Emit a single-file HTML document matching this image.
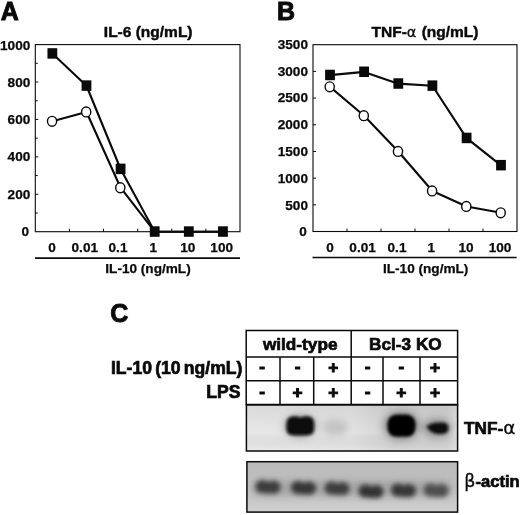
<!DOCTYPE html>
<html lang="en"><head><meta charset="utf-8"><title>Figure</title>
<style>html,body{margin:0;padding:0;background:#fff}svg{display:block}text{font-family:"Liberation Sans",sans-serif;font-weight:bold;fill:#0a0a0a;stroke:#0a0a0a;stroke-width:0.45px}.t{font-size:13.6px;stroke-width:0.25px}.h{font-size:15.5px}.p{font-size:25px;stroke-width:0.9px}.s{font-size:17.2px;stroke-width:0.7px}.m{stroke-width:1px}.g{font-weight:normal;stroke-width:0.3px;font-family:"DejaVu Sans","Liberation Sans",sans-serif}</style></head><body>
<svg width="520" height="515" viewBox="0 0 520 515">
<defs><filter id="b1" x="-50%" y="-50%" width="200%" height="200%"><feGaussianBlur stdDeviation="1.6"/></filter><filter id="b2" x="-50%" y="-50%" width="200%" height="200%"><feGaussianBlur stdDeviation="2.5"/></filter><filter id="b3" x="-50%" y="-50%" width="200%" height="200%"><feGaussianBlur stdDeviation="3.5"/></filter></defs>
<rect width="520" height="515" fill="#fff"/>
<rect x="35.3" y="44.6" width="204.7" height="187.1" fill="none" stroke="#0a0a0a" stroke-width="1.1"/>
<text class="t" x="29" y="235.8" text-anchor="end">0</text>
<path d="M35.3 212.99h2.5" stroke="#0a0a0a" stroke-width="1"/>
<text class="t" x="30.3" y="198.62" text-anchor="end">200</text>
<path d="M35.3 194.28h3" stroke="#0a0a0a" stroke-width="1"/>
<path d="M35.3 175.57h2.5" stroke="#0a0a0a" stroke-width="1"/>
<text class="t" x="30.3" y="161.44" text-anchor="end">400</text>
<path d="M35.3 156.86h3" stroke="#0a0a0a" stroke-width="1"/>
<path d="M35.3 138.15h2.5" stroke="#0a0a0a" stroke-width="1"/>
<text class="t" x="30.3" y="124.26" text-anchor="end">600</text>
<path d="M35.3 119.44h3" stroke="#0a0a0a" stroke-width="1"/>
<path d="M35.3 100.73h2.5" stroke="#0a0a0a" stroke-width="1"/>
<text class="t" x="30.3" y="87.08" text-anchor="end">800</text>
<path d="M35.3 82.02h3" stroke="#0a0a0a" stroke-width="1"/>
<path d="M35.3 63.31h2.5" stroke="#0a0a0a" stroke-width="1"/>
<text class="t" x="30.3" y="49.9" text-anchor="end">1000</text>
<path d="M69.42 231.7v-3" stroke="#0a0a0a" stroke-width="1"/>
<path d="M103.53 231.7v-3" stroke="#0a0a0a" stroke-width="1"/>
<path d="M137.65 231.7v-3" stroke="#0a0a0a" stroke-width="1"/>
<path d="M171.77 231.7v-3" stroke="#0a0a0a" stroke-width="1"/>
<path d="M205.88 231.7v-3" stroke="#0a0a0a" stroke-width="1"/>
<text class="t" x="52" y="252.1" text-anchor="middle">0</text>
<text class="t" x="84.8" y="252.1" text-anchor="middle">0.01</text>
<text class="t" x="118" y="252.1" text-anchor="middle">0.1</text>
<text class="t" x="153.3" y="252.1" text-anchor="middle">1</text>
<text class="t" x="187.8" y="252.1" text-anchor="middle">10</text>
<text class="t" x="221.7" y="252.1" text-anchor="middle">100</text>
<path d="M35 258.05H240" stroke="#0a0a0a" stroke-width="1.7"/>
<text class="t" x="148" y="273" text-anchor="middle">IL-10 (ng/mL)</text>
<text class="h" x="148.2" y="36.7" text-anchor="middle">IL-6 (ng/mL)</text>
<polyline points="52.36,121.31 86.47,111.96 120.59,187.73 154.71,231.7 188.82,231.7 222.94,231.7" fill="none" stroke="#0a0a0a" stroke-width="2.1" stroke-linejoin="round"/>
<polyline points="52.36,53.58 86.47,85.76 120.59,169.02 154.71,231.7 188.82,231.7 222.94,231.7" fill="none" stroke="#0a0a0a" stroke-width="2.1" stroke-linejoin="round"/>
<ellipse cx="52.06" cy="121.31" rx="4.6" ry="4.95" fill="#fff" stroke="#0a0a0a" stroke-width="1.4"/>
<ellipse cx="86.17" cy="111.96" rx="4.6" ry="4.95" fill="#fff" stroke="#0a0a0a" stroke-width="1.4"/>
<ellipse cx="120.29" cy="187.73" rx="4.6" ry="4.95" fill="#fff" stroke="#0a0a0a" stroke-width="1.4"/>
<rect x="47.46" y="48.18" width="9.8" height="10.5" fill="#0a0a0a"/>
<rect x="81.57" y="80.36" width="9.8" height="10.5" fill="#0a0a0a"/>
<rect x="115.69" y="163.62" width="9.8" height="10.5" fill="#0a0a0a"/>
<rect x="149.81" y="226.3" width="9.8" height="10.5" fill="#0a0a0a"/>
<rect x="183.92" y="226.3" width="9.8" height="10.5" fill="#0a0a0a"/>
<rect x="218.04" y="226.3" width="9.8" height="10.5" fill="#0a0a0a"/>
<rect x="313" y="44.7" width="204" height="186.8" fill="none" stroke="#0a0a0a" stroke-width="1.1"/>
<text class="t" x="306.7" y="236.4" text-anchor="end">0</text>
<text class="t" x="308" y="209.6" text-anchor="end">500</text>
<path d="M313 204.81h3" stroke="#0a0a0a" stroke-width="1"/>
<text class="t" x="308" y="182.8" text-anchor="end">1000</text>
<path d="M313 178.13h3" stroke="#0a0a0a" stroke-width="1"/>
<text class="t" x="308" y="156" text-anchor="end">1500</text>
<path d="M313 151.44h3" stroke="#0a0a0a" stroke-width="1"/>
<text class="t" x="308" y="129.2" text-anchor="end">2000</text>
<path d="M313 124.76h3" stroke="#0a0a0a" stroke-width="1"/>
<text class="t" x="308" y="102.4" text-anchor="end">2500</text>
<path d="M313 98.07h3" stroke="#0a0a0a" stroke-width="1"/>
<text class="t" x="308" y="75.6" text-anchor="end">3000</text>
<path d="M313 71.39h3" stroke="#0a0a0a" stroke-width="1"/>
<text class="t" x="308" y="48.8" text-anchor="end">3500</text>
<path d="M347 231.5v-3" stroke="#0a0a0a" stroke-width="1"/>
<path d="M381 231.5v-3" stroke="#0a0a0a" stroke-width="1"/>
<path d="M415 231.5v-3" stroke="#0a0a0a" stroke-width="1"/>
<path d="M449 231.5v-3" stroke="#0a0a0a" stroke-width="1"/>
<path d="M483 231.5v-3" stroke="#0a0a0a" stroke-width="1"/>
<text class="t" x="330" y="252.1" text-anchor="middle">0</text>
<text class="t" x="362.6" y="252.1" text-anchor="middle">0.01</text>
<text class="t" x="397" y="252.1" text-anchor="middle">0.1</text>
<text class="t" x="431.2" y="252.1" text-anchor="middle">1</text>
<text class="t" x="466.1" y="252.1" text-anchor="middle">10</text>
<text class="t" x="500" y="252.1" text-anchor="middle">100</text>
<path d="M312.5 257.5H516.6" stroke="#0a0a0a" stroke-width="1.7"/>
<text class="t" x="425.7" y="273" text-anchor="middle">IL-10 (ng/mL)</text>
<text class="h" x="425" y="36.7" text-anchor="middle">TNF-<tspan class="g" font-size="14.6">α</tspan><tspan dx="0.9"> (ng/mL)</tspan></text>
<polyline points="330,86.86 364.1,115.68 398.3,151.44 432.4,190.94 466.6,206.42 501,212.82" fill="none" stroke="#0a0a0a" stroke-width="2.1" stroke-linejoin="round"/>
<polyline points="330,75.12 364.1,71.92 398.3,83.66 432.4,85.8 466.6,138.1 501,165.32" fill="none" stroke="#0a0a0a" stroke-width="2.1" stroke-linejoin="round"/>
<ellipse cx="329.7" cy="86.86" rx="4.6" ry="4.95" fill="#fff" stroke="#0a0a0a" stroke-width="1.4"/>
<ellipse cx="363.8" cy="115.68" rx="4.6" ry="4.95" fill="#fff" stroke="#0a0a0a" stroke-width="1.4"/>
<ellipse cx="398" cy="151.44" rx="4.6" ry="4.95" fill="#fff" stroke="#0a0a0a" stroke-width="1.4"/>
<ellipse cx="432.1" cy="190.94" rx="4.6" ry="4.95" fill="#fff" stroke="#0a0a0a" stroke-width="1.4"/>
<ellipse cx="466.3" cy="206.42" rx="4.6" ry="4.95" fill="#fff" stroke="#0a0a0a" stroke-width="1.4"/>
<ellipse cx="500.7" cy="212.82" rx="4.6" ry="4.95" fill="#fff" stroke="#0a0a0a" stroke-width="1.4"/>
<rect x="325.1" y="69.72" width="9.8" height="10.5" fill="#0a0a0a"/>
<rect x="359.2" y="66.52" width="9.8" height="10.5" fill="#0a0a0a"/>
<rect x="393.4" y="78.26" width="9.8" height="10.5" fill="#0a0a0a"/>
<rect x="427.5" y="80.4" width="9.8" height="10.5" fill="#0a0a0a"/>
<rect x="461.7" y="132.7" width="9.8" height="10.5" fill="#0a0a0a"/>
<rect x="496.1" y="159.92" width="9.8" height="10.5" fill="#0a0a0a"/>
<text class="p" x="0.8" y="20">A</text>
<text class="p" x="277" y="19.7">B</text>
<text class="p" x="110.2" y="321.7">C</text>
<path d="M246.2 330.4H457.6V404.6H246.2Z" fill="none" stroke="#0a0a0a" stroke-width="1.5"/>
<path d="M246.2 357H457.6M246.2 380.8H457.6" stroke="#0a0a0a" stroke-width="1.5"/>
<path d="M351.2 330.4V404.6" stroke="#0a0a0a" stroke-width="1.5"/>
<path d="M280 357V404.6" stroke="#0a0a0a" stroke-width="1.5"/>
<path d="M313.7 357V404.6" stroke="#0a0a0a" stroke-width="1.5"/>
<path d="M383 357V404.6" stroke="#0a0a0a" stroke-width="1.5"/>
<path d="M420 357V404.6" stroke="#0a0a0a" stroke-width="1.5"/>
<text class="s" x="300.2" y="349.5" text-anchor="middle">wild-type</text>
<text class="s" x="405.4" y="349.5" text-anchor="middle">Bcl-3 KO</text>
<text class="s" x="242.4" y="374" text-anchor="end" style="font-size:17.6px;word-spacing:-1.7px">IL-10 (10 ng/mL)</text>
<text class="s" x="240.4" y="397.7" text-anchor="end" style="font-size:17.6px">LPS</text>
<text class="s m" x="262" y="371.9" text-anchor="middle">-</text>
<text class="s m" x="262" y="396.7" text-anchor="middle">-</text>
<text class="s m" x="297.5" y="371.9" text-anchor="middle">-</text>
<text class="s m" x="297.5" y="397.7" text-anchor="middle">+</text>
<text class="s m" x="333.25" y="373.3" text-anchor="middle">+</text>
<text class="s m" x="333.25" y="397.7" text-anchor="middle">+</text>
<text class="s m" x="367.5" y="371.9" text-anchor="middle">-</text>
<text class="s m" x="367.5" y="396.7" text-anchor="middle">-</text>
<text class="s m" x="401.25" y="371.9" text-anchor="middle">-</text>
<text class="s m" x="401.25" y="397.7" text-anchor="middle">+</text>
<text class="s m" x="435" y="373.3" text-anchor="middle">+</text>
<text class="s m" x="435" y="397.7" text-anchor="middle">+</text>
<defs><linearGradient id="g1" x1="0" y1="0" x2="1" y2="0"><stop offset="0" stop-color="#e8e8e8"/><stop offset="0.5" stop-color="#e3e3e3"/><stop offset="0.7" stop-color="#d2d2d2"/><stop offset="0.95" stop-color="#d2d2d2"/><stop offset="1" stop-color="#e0e0e0"/></linearGradient><linearGradient id="g2" x1="0" y1="0" x2="0" y2="1"><stop offset="0" stop-color="#bababa"/><stop offset="0.6" stop-color="#c2c2c2"/><stop offset="1" stop-color="#d0d0d0"/></linearGradient><linearGradient id="g3" x1="0" y1="0" x2="0" y2="1"><stop offset="0" stop-color="#000" stop-opacity="0.06"/><stop offset="0.6" stop-color="#000" stop-opacity="0"/><stop offset="1" stop-color="#fff" stop-opacity="0.15"/></linearGradient><clipPath id="c1"><rect x="246.9" y="405" width="210.7" height="46"/></clipPath><clipPath id="c2"><rect x="246.9" y="461.7" width="210.7" height="50.4"/></clipPath></defs>
<rect x="246.4" y="405" width="211.2" height="46" fill="url(#g1)"/>
<rect x="246.4" y="405" width="211.2" height="46" fill="url(#g3)"/>
<rect x="246.9" y="461.7" width="210.7" height="50.4" fill="url(#g2)"/>
<g clip-path="url(#c1)">
<g filter="url(#b3)" opacity="0.7">
<ellipse cx="300.3" cy="426" rx="17" ry="12" fill="#9a9a9a"/>
<ellipse cx="401.5" cy="425.7" rx="19" ry="15" fill="#808080"/>
<ellipse cx="437" cy="428" rx="15" ry="10" fill="#808080"/>
</g>
<g filter="url(#b3)"><ellipse cx="335" cy="427.5" rx="13" ry="8.5" fill="#c4c4c4"/></g>
<g filter="url(#b1)">
<path d="M291.5 416.6 Q296 415.6 300.3 417.6 Q305 415.6 309.5 416.6 Q314.2 418 314.2 424 V428.8 Q314.2 435.5 306 435.5 H294 Q286.4 435.5 286.4 428.8 V424 Q286.4 418 291.5 416.6Z" fill="#080808"/>
<rect x="387.4" y="414.6" width="28.2" height="22.2" rx="9" fill="#060606"/>
<path d="M426.5 426.5 Q430 422.8 438 422.4 H443 Q448.4 422.8 448.4 428 Q448.4 433.8 442 434 H437 Q430 432.8 426.5 426.5Z" fill="#101010"/>
</g>
</g>
<g clip-path="url(#c2)">
<g filter="url(#b3)" opacity="0.5"><rect x="252" y="481" width="200" height="15" rx="7" fill="#8c8c8c"/></g>
<g filter="url(#b2)">
<ellipse cx="262.6" cy="486.5" rx="7.2" ry="6.6" fill="#3a3a3a"/>
<ellipse cx="273.4" cy="487.1" rx="7.2" ry="6.6" fill="#3a3a3a"/>
<ellipse cx="268" cy="489.1" rx="6" ry="4.5" fill="#3a3a3a"/>
<ellipse cx="298.1" cy="487.5" rx="7.2" ry="6.6" fill="#343434"/>
<ellipse cx="308.9" cy="488.1" rx="7.2" ry="6.6" fill="#343434"/>
<ellipse cx="303.5" cy="490.1" rx="6" ry="4.5" fill="#343434"/>
<ellipse cx="331.6" cy="488" rx="7.2" ry="6.6" fill="#3c3c3c"/>
<ellipse cx="342.4" cy="488.6" rx="7.2" ry="6.6" fill="#3c3c3c"/>
<ellipse cx="337" cy="490.6" rx="6" ry="4.5" fill="#3c3c3c"/>
<ellipse cx="365.6" cy="491" rx="7.2" ry="6.6" fill="#303030"/>
<ellipse cx="376.4" cy="491.6" rx="7.2" ry="6.6" fill="#303030"/>
<ellipse cx="371" cy="493.6" rx="6" ry="4.5" fill="#303030"/>
<ellipse cx="398.1" cy="490" rx="7.2" ry="6.6" fill="#363636"/>
<ellipse cx="408.9" cy="490.6" rx="7.2" ry="6.6" fill="#363636"/>
<ellipse cx="403.5" cy="492.6" rx="6" ry="4.5" fill="#363636"/>
<ellipse cx="430.6" cy="490" rx="7.2" ry="6.6" fill="#4e4e4e"/>
<ellipse cx="441.4" cy="490.6" rx="7.2" ry="6.6" fill="#4e4e4e"/>
<ellipse cx="436" cy="492.6" rx="6" ry="4.5" fill="#4e4e4e"/>
</g></g>
<rect x="246.4" y="405" width="211.2" height="46" fill="none" stroke="#0a0a0a" stroke-width="1.5"/>
<rect x="246.9" y="461.7" width="210.7" height="50.4" fill="none" stroke="#0a0a0a" stroke-width="1.5"/>
<text class="s" x="464" y="433.9">TNF-<tspan class="g" font-size="18.5">α</tspan></text>
<text class="s" x="464.3" y="486.7" style="font-size:16.6px"><tspan class="g" font-size="17.5">β</tspan>-actin</text>
</svg></body></html>
